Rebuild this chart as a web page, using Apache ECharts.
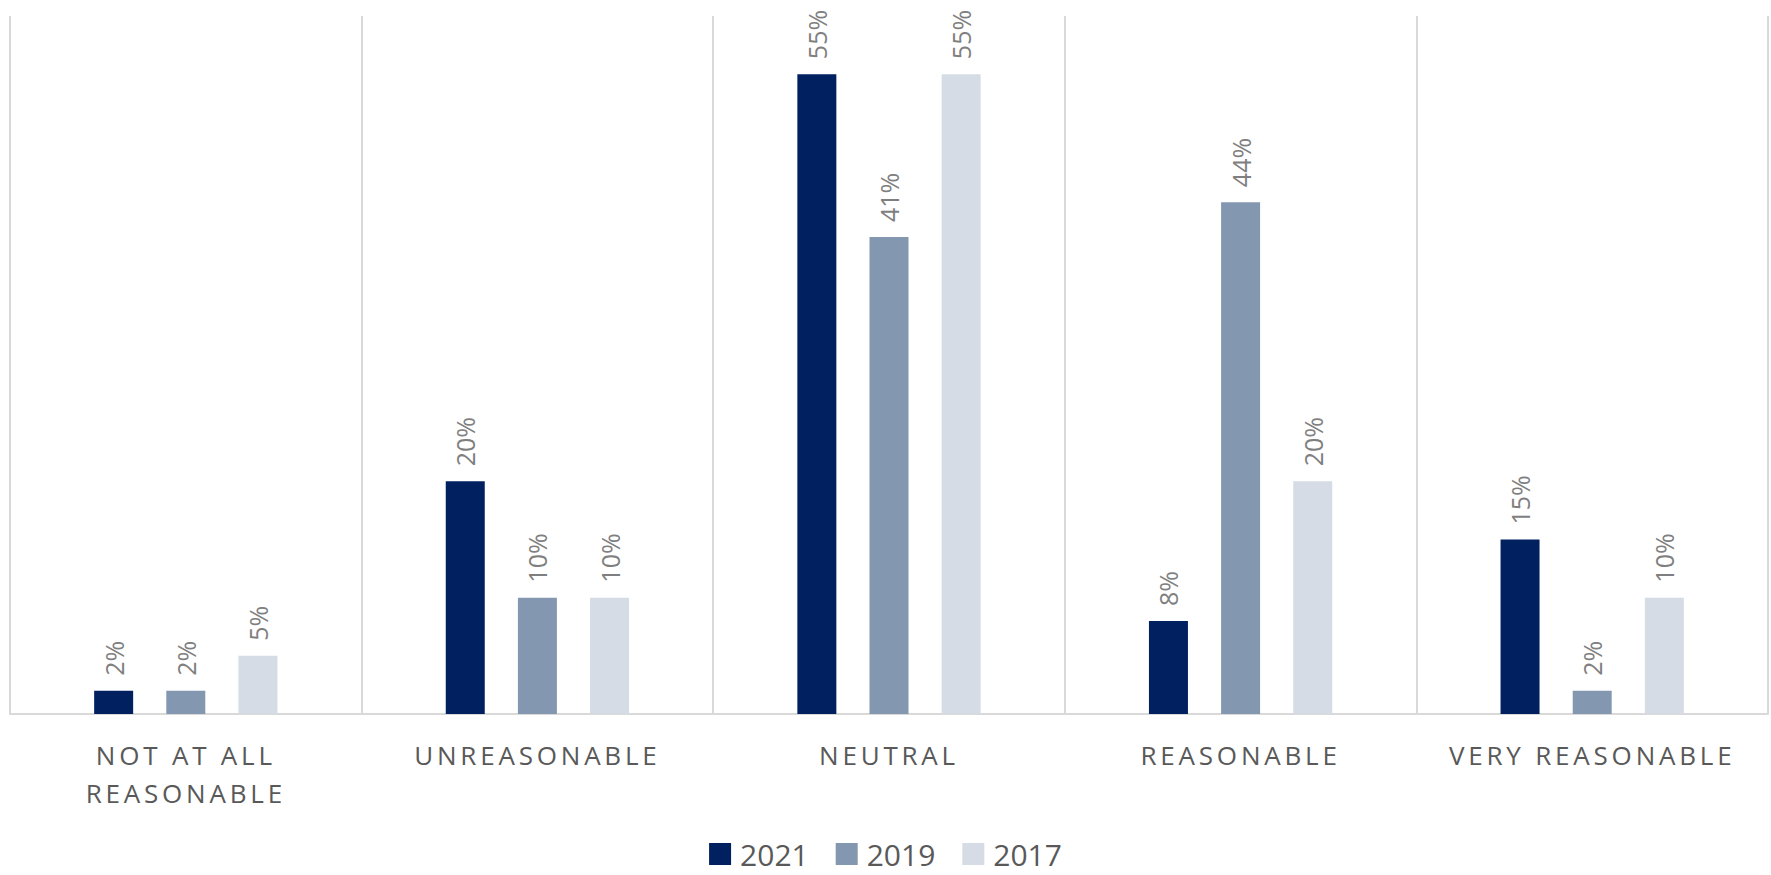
<!DOCTYPE html>
<html>
<head>
<meta charset="utf-8">
<style>
  html, body { margin: 0; padding: 0; background: #ffffff; }
  #chart { width: 1771px; height: 875px; }
</style>
<script src="https://cdn.jsdelivr.net/npm/echarts@6/dist/echarts.min.js"></script>
</head>
<body>
<div id="chart"></div>
<script>
// Survey answers, share of respondents per year (%)
const categories = ['NOT AT ALL\nREASONABLE', 'UNREASONABLE', 'NEUTRAL', 'REASONABLE', 'VERY REASONABLE'];
const years = ['2021', '2019', '2017'];
const values2021 = [2, 20, 55, 8, 15];
const values2019 = [2, 10, 41, 44, 2];
const values2017 = [5, 10, 55, 20, 10];
const yearColors = ['#002060', '#8497b0', '#d6dce5'];

const chart = echarts.init(document.getElementById('chart'), null, { renderer: 'svg' });

function barSeries(name, data, color) {
  return {
    name: name,
    type: 'bar',
    data: data,
    barWidth: 39,
    barGap: '85%',
    itemStyle: { color: color },
    label: {
      show: true,
      position: 'top',
      rotate: 90,
      align: 'left',
      verticalAlign: 'middle',
      distance: 15,
      formatter: '{c}%',
      fontFamily: 'Open Sans',
      fontSize: 25,
      color: '#7f7f7f'
    }
  };
}

chart.setOption({
  animation: false,
  backgroundColor: '#ffffff',
  grid: { left: 10, right: 3, top: 16, bottom: 161, containLabel: false },
  legend: {
    data: years,
    top: 833,
    left: 'center',
    icon: 'rect',
    itemWidth: 22,
    itemHeight: 22,
    itemGap: 27,
    textStyle: {
      fontFamily: 'Open Sans',
      fontSize: 30,
      lineHeight: 32,
      color: '#595959',
      padding: [0, 0, 0, 4]
    }
  },
  xAxis: {
    type: 'category',
    data: categories,
    axisLine: { show: true, lineStyle: { color: '#d9d9d9', width: 2 } },
    axisTick: { show: false },
    splitLine: { show: true, lineStyle: { color: '#d9d9d9', width: 2 } },
    axisLabel: {
      interval: 0,
      margin: 22,
      fontFamily: 'Open Sans',
      fontSize: 26,
      lineHeight: 38,
      color: '#595959'
    }
  },
  yAxis: {
    type: 'value',
    min: 0,
    max: 60,
    show: false,
    splitLine: { show: false }
  },
  series: [
    barSeries(years[0], values2021, yearColors[0]),
    barSeries(years[1], values2019, yearColors[1]),
    barSeries(years[2], values2017, yearColors[2])
  ]
});

// Wide tracking on the category names
function trackCategoryLabels() {
  const words = new Set();
  categories.forEach(c => c.split('\n').forEach(w => words.add(w)));
  document.querySelectorAll('#chart svg text').forEach(t => {
    if (words.has(t.textContent.trim())) {
      t.style.letterSpacing = '3.8px';
    }
  });
}
trackCategoryLabels();
chart.on('finished', trackCategoryLabels);
</script>
</body>
</html>
